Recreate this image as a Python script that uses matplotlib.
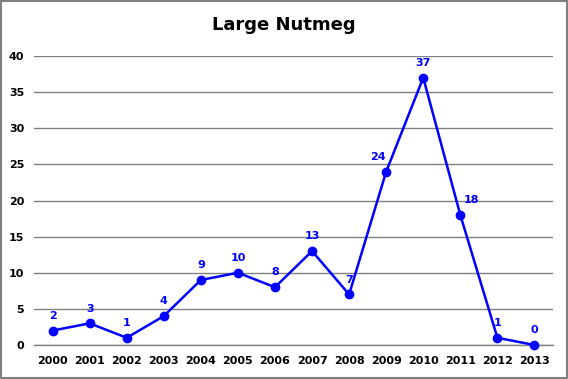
import matplotlib
matplotlib.use("Agg")
import matplotlib.pyplot as plt
from matplotlib.patches import Rectangle

years = ['2000', '2001', '2002', '2003', '2004', '2005', '2006',
         '2007', '2008', '2009', '2010', '2011', '2012', '2013']
counts = [2, 3, 1, 4, 9, 10, 8, 13, 7, 24, 37, 18, 1, 0]
yticks = [0, 5, 10, 15, 20, 25, 30, 35, 40]
# label nudges (points) where excel shifted them sideways
label_dx = [0, 0, 0, 0, 0, 0, 0, 0, 0, -6, 0, 8, 0, 0]

fig = plt.figure(figsize=(5.68, 3.79), dpi=100)
ax = fig.add_axes([0.0599, 0.0897, 0.9137, 0.7625])

xs = list(range(len(years)))
ax.plot(xs, counts, color='#0000FF', lw=1.8, marker='o', ms=6, zorder=3,
        clip_on=False)
for x, v, dx in zip(xs, counts, label_dx):
    ax.annotate(str(v), (x, v), xytext=(dx, 7), textcoords='offset points',
                ha='center', va='bottom', color='#0000FF',
                fontsize=8, fontweight='bold')

ax.set_xlim(-0.5, len(years) - 0.5)
ax.set_ylim(0, 40)
ax.set_xticks(xs)
ax.set_xticklabels(years, fontsize=8, fontweight='bold')
ax.set_yticks(yticks)
ax.set_yticklabels([str(t) for t in yticks], fontsize=8, fontweight='bold')
ax.tick_params(length=0, pad=8)
ax.tick_params(axis='y', pad=7)
ax.grid(axis='y', color='#808080', lw=1)
ax.axhline(0, color='#808080', lw=1, clip_on=False, zorder=1)
ax.set_axisbelow(True)
for s in ax.spines.values():
    s.set_visible(False)

fig.text(0.5, 0.935, 'Large Nutmeg', ha='center', va='center',
         fontsize=13, fontweight='bold')
fig.patches.append(Rectangle((0.002, 0.003), 0.996, 0.994, transform=fig.transFigure,
                             fill=False, ec='#808080', lw=1.5))

fig.savefig('out.png', dpi=100)
